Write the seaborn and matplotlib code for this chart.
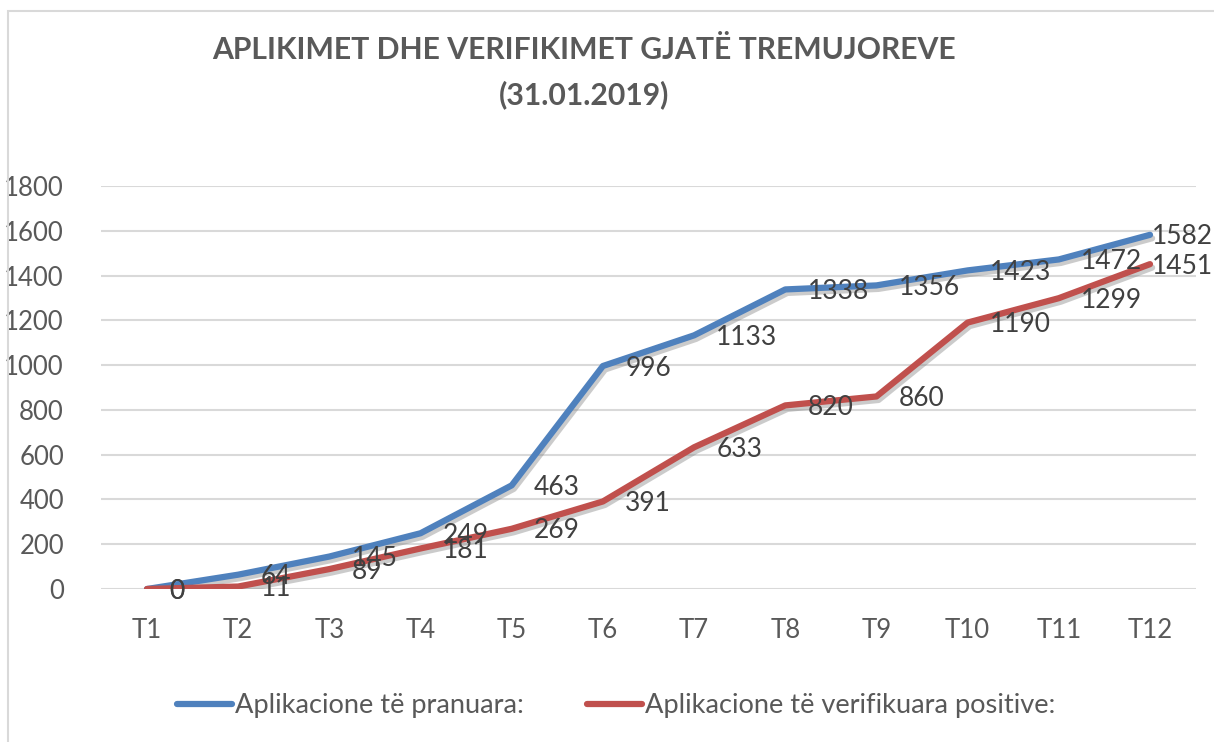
import matplotlib
matplotlib.use("Agg")
import matplotlib.pyplot as plt
import matplotlib.patheffects as pe
from matplotlib.lines import Line2D
from matplotlib.patches import Rectangle
import seaborn as sns
import pandas as pd

categories = ["T1", "T2", "T3", "T4", "T5", "T6", "T7", "T8", "T9", "T10", "T11", "T12"]
pranuara = [0, 64, 145, 249, 463, 996, 1133, 1338, 1356, 1423, 1472, 1582]
verifikuara = [0, 11, 89, 181, 269, 391, 633, 820, 860, 1190, 1299, 1451]
series_names = ["Aplikacione të pranuara:", "Aplikacione të verifikuara positive:"]
title_lines = ["APLIKIMET DHE VERIFIKIMET GJATË TREMUJOREVE", "(31.01.2019)"]
yticks = [0, 200, 400, 600, 800, 1000, 1200, 1400, 1600, 1800]

sns.set_style("white")
plt.rcParams["font.family"] = ["Lato", "DejaVu Sans"]

colors = ["#4F81BD", "#C0504D"]
txt = "#595959"

df = pd.DataFrame({
    "T": categories * 2,
    "v": pranuara + verifikuara,
    "s": [series_names[0]] * len(categories) + [series_names[1]] * len(categories),
})

fig = plt.figure(figsize=(12.14, 7.42), dpi=100)
ax = fig.add_axes([101.4 / 1214, 1 - 589 / 742, (1195.6 - 101.4) / 1214, (589 - 186) / 742])

sns.lineplot(data=df, x="T", y="v", hue="s", palette=colors, linewidth=4.5,
             ax=ax, legend=False, sort=False)
shadow = [pe.SimpleLineShadow(offset=(1.5, -2.5), shadow_color="#7f7f7f", alpha=0.4), pe.Normal()]
for ln in ax.get_lines():
    ln.set_path_effects(shadow)
    ln.set_solid_capstyle("round")
    ln.set_zorder(3)

ax.set_xlim(-0.5, len(categories) - 0.5)
ax.set_ylim(0, 1800)
ax.set_yticks(yticks)
ax.set_yticklabels([str(t) for t in yticks])
ax.yaxis.grid(True, color="#D9D9D9", linewidth=1.5)
ax.set_axisbelow(True)
for s in ax.spines.values():
    s.set_visible(False)
ax.tick_params(axis="both", length=0, labelsize=18.5, colors=txt)
ax.tick_params(axis="y", pad=27)
ax.tick_params(axis="x", pad=21)
ax.set_xlabel("")
ax.set_ylabel("")

n = len(categories)
for vals in (pranuara, verifikuara):
    for i, v in enumerate(vals):
        dx = 1 if i == n - 1 else 16
        ax.annotate(str(v), (i, v), xytext=(dx, -1.5), textcoords="offset points",
                    ha="left", va="center", fontsize=19, color="#404040", zorder=5)

fig.text(584 / 1214, 1 - 50 / 742, title_lines[0], ha="center", va="center",
         fontsize=21.7, fontweight="bold", color=txt)
fig.text(584 / 1214, 1 - 95 / 742, title_lines[1], ha="center", va="center",
         fontsize=21.7, fontweight="bold", color=txt)

handles = [Line2D([0], [0], color=c, linewidth=4.5, solid_capstyle="round") for c in colors]
fig.legend(handles, series_names, loc="center", bbox_to_anchor=(616 / 1214, 1 - 706 / 742),
           ncol=2, frameon=False, fontsize=19.6, handlelength=2.05, handletextpad=0.1,
           columnspacing=2.3, labelcolor=txt)

fig.add_artist(Rectangle((8 / 1214, -0.1), 1.2, 1 - 11 / 742 + 0.1, transform=fig.transFigure,
                         fill=False, edgecolor="#D9D9D9", linewidth=1.5))

fig.savefig("out.png", dpi=100)
